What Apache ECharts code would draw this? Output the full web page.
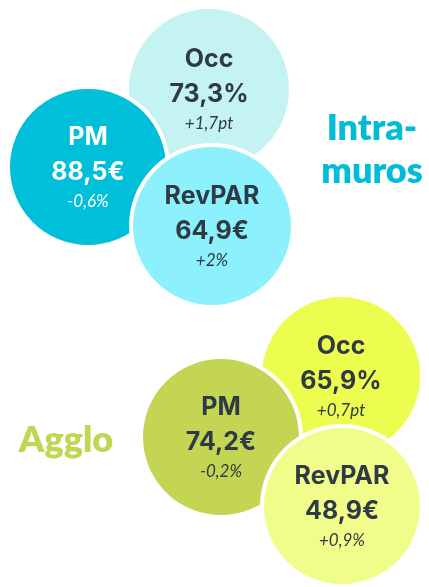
<!DOCTYPE html>
<html>
<head>
<meta charset="utf-8">
<script src="https://cdn.jsdelivr.net/npm/echarts@6/dist/echarts.min.js"></script>
<style>
  html, body { margin: 0; padding: 0; background: #fff; }
  #main { width: 429px; height: 587px; }
</style>
</head>
<body>
<div id="main"></div>
<script>
// indicateurs
var metrics = ['Occ', 'PM', 'RevPAR'];
var intraValues = ['73,3%', '88,5€', '64,9€'];
var intraChanges = ['+1,7pt', '-0,6%', '+2%'];
var aggloValues = ['65,9%', '74,2€', '48,9€'];
var aggloChanges = ['+0,7pt', '-0,2%', '+0,9%'];

// placement des bulles (x, y, diametre)
var intraLayout = [[209, 89, 164], [88, 167, 160], [212, 226, 162]];
var aggloLayout = [[341, 376, 162], [221, 437, 160], [342, 506, 160]];
var intraColors = ['#c5f3f2', '#00bfd8', '#8cf1fd'];
var aggloColors = ['#edfd4f', '#c3d553', '#f1fd8a'];
var intraText = ['#2e3a44', '#ffffff', '#2e3a44'];

var buildData = function (layout, values, changes, colors, textColors) {
    return metrics.map(function (m, i) {
        var tc = textColors ? textColors[i] : '#2e3a44';
        return {
            value: [layout[i][0], layout[i][1]],
            symbolSize: layout[i][2],
            itemStyle: { color: colors[i] },
            label: {
                formatter: '{t|' + m + '}\n{v|' + values[i] + '}\n{c|' + changes[i] + '}',
                rich: {
                    t: { fontFamily: 'Inter', fontWeight: 700, fontSize: 25, lineHeight: 35, color: tc },
                    v: { fontFamily: 'Inter', fontWeight: 700, fontSize: 25, lineHeight: 35, color: tc },
                    c: { fontFamily: 'Lato', fontStyle: 'italic', fontSize: 17, lineHeight: 24, color: tc }
                }
            }
        };
    });
};

var bubbleSeries = function (data) {
    return {
        type: 'scatter',
        symbol: 'circle',
        animation: false,
        itemStyle: { borderColor: '#fff', borderWidth: 4, opacity: 1 },
        label: { show: true, position: 'inside', align: 'center', verticalAlign: 'middle' },
        emphasis: { disabled: true },
        data: data
    };
};

var myChart = echarts.init(document.getElementById('main'));
myChart.setOption({
    animation: false,
    grid: { left: 0, right: 0, top: 0, bottom: 0 },
    xAxis: { type: 'value', min: 0, max: 429, show: false },
    yAxis: { type: 'value', min: 0, max: 587, inverse: true, show: false },
    series: [
        bubbleSeries(buildData(intraLayout, intraValues, intraChanges, intraColors, intraText)),
        bubbleSeries(buildData(aggloLayout, aggloValues, aggloChanges, aggloColors))
    ],
    graphic: [{
        type: 'text',
        x: 372,
        y: 150,
        style: {
            text: 'Intra-\nmuros',
            fill: '#00bcd6',
            font: '800 36px Lato',
            lineHeight: 43,
            align: 'center',
            verticalAlign: 'middle'
        }
    }, {
        type: 'text',
        x: 66,
        y: 440,
        style: {
            text: 'Agglo',
            fill: '#c3d553',
            font: '800 36px Lato',
            align: 'center',
            verticalAlign: 'middle'
        }
    }]
});
window.onresize = myChart.resize;
</script>
</body>
</html>
